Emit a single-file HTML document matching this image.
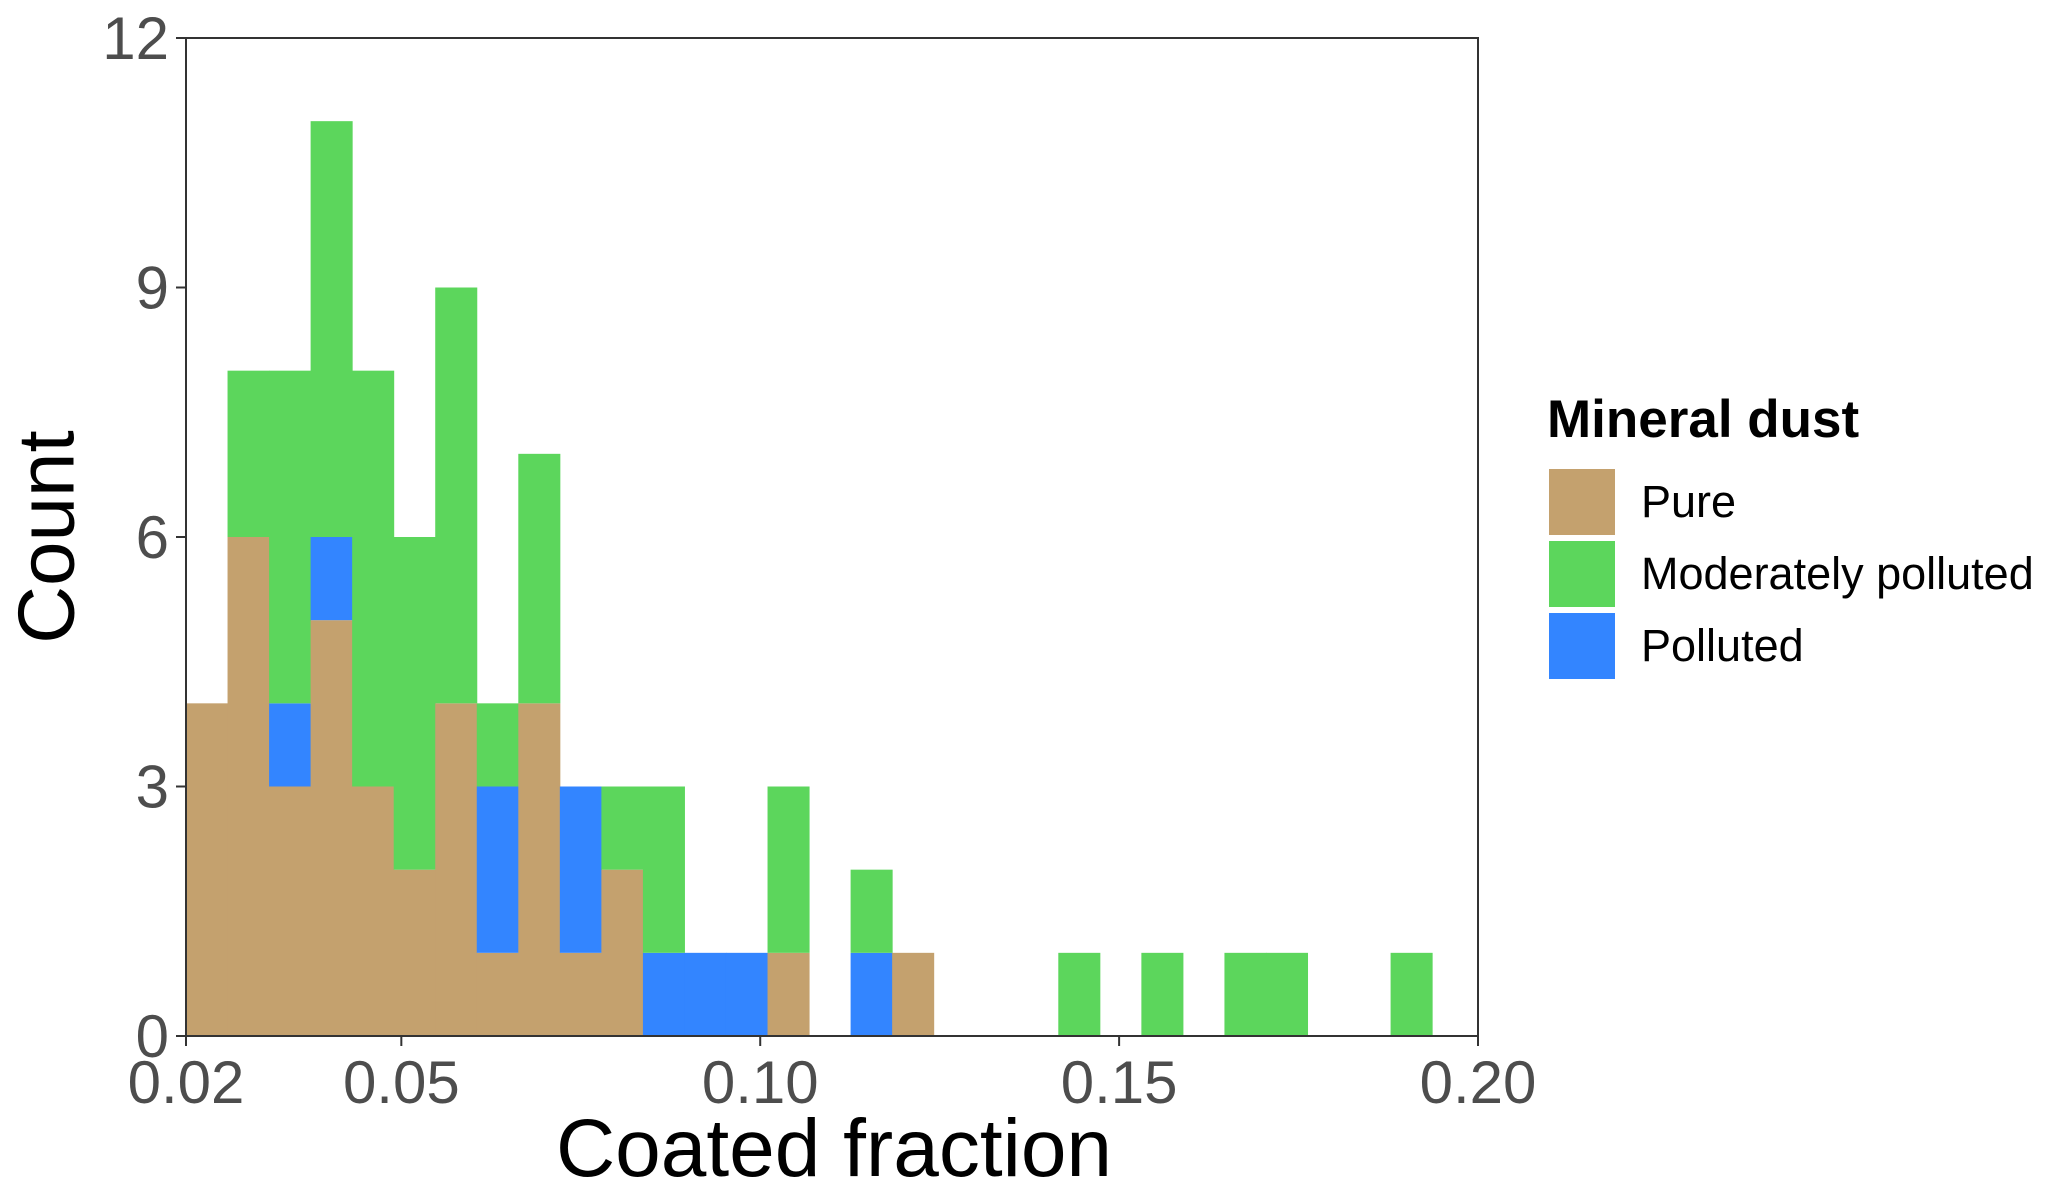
<!DOCTYPE html>
<html><head><meta charset="utf-8"><style>
body{margin:0;background:#fff}
svg{display:block;font-family:"Liberation Sans",sans-serif}
</style></head><body>
<svg id="chart" width="2057" height="1194">
<g id="bars"></g>
<rect x="186" y="38" width="1292" height="998" fill="none" stroke="#333" stroke-width="2"/>
<g id="axes"></g>
<text x="46" y="537" font-size="80" text-anchor="middle" dominant-baseline="central" transform="rotate(-90 46 537)">Count</text>
<text x="834" y="1176" font-size="82" text-anchor="middle">Coated fraction</text>
<g>
<text x="1547" y="437" font-size="53" font-weight="bold">Mineral dust</text>
<rect x="1549" y="469" width="66" height="66" fill="#C4A16E"/>
<text x="1641" y="517" font-size="45">Pure</text>
<rect x="1549" y="541" width="66" height="66" fill="#5CD65C"/>
<text x="1641" y="589" font-size="45">Moderately polluted</text>
<rect x="1549" y="613" width="66" height="66" fill="#3385FF"/>
<text x="1641" y="661" font-size="45">Polluted</text>
</g>
</svg>
<script>
const binStart = 0.02;
const binWidth = 0.005787;
const pure =     [4,6,3,5,3,2,4,1,4,1,2,0,0,0,1,0,0,1,0,0,0,0,0,0,0,0,0,0,0,0];
const polluted = [0,0,1,1,0,0,0,2,0,2,0,1,1,1,0,0,1,0,0,0,0,0,0,0,0,0,0,0,0,0];
const moderate = [0,2,4,5,5,4,5,1,3,0,1,2,0,0,2,0,1,0,0,0,0,1,0,1,0,1,1,0,0,1];
const xTicks = [0.02,0.05,0.10,0.15,0.20];
const xTickLabels = ["0.02","0.05","0.10","0.15","0.20"];
const yTicks = [0,3,6,9,12];
const NS="http://www.w3.org/2000/svg";
const X0=186,X1=1478,Y0=1036,Y1=38;
function sx(v){return X0+(v-0.02)/(0.20-0.02)*(X1-X0);}
function sy(v){return Y0-v/12*(Y0-Y1);}
const bars=document.getElementById('bars');
function bar(i,lo,hi,color,name){
  if(hi<=lo)return;
  const r=document.createElementNS(NS,'rect');
  const a=sx(binStart+i*binWidth),b=sx(binStart+(i+1)*binWidth);
  r.setAttribute('x',a);r.setAttribute('width',b-a+0.5);
  r.setAttribute('y',sy(hi));r.setAttribute('height',sy(lo)-sy(hi));
  r.setAttribute('fill',color);
  
  
  bars.appendChild(r);
}
for(let i=0;i<pure.length;i++){
  const p=pure[i],q=p+polluted[i],m=q+moderate[i];
  bar(i,0,p,'#C4A16E','bar-pure-'+i);
  bar(i,p,q,'#3385FF','bar-polluted-'+i);
  bar(i,q,m,'#5CD65C','bar-moderate-'+i);
}
const axes=document.getElementById('axes');
function el(tag,attrs){const e=document.createElementNS(NS,tag);for(const k in attrs)e.setAttribute(k,attrs[k]);axes.appendChild(e);return e;}
xTicks.forEach((v,i)=>{
  const x=sx(v);
  const t=el('line',{x1:x,x2:x,y1:Y0,y2:Y0+10,stroke:'#333','stroke-width':2});
  
  
  const l=el('text',{x:x,y:Y0+67,'font-size':60,'text-anchor':'middle',fill:'#4d4d4d'});
  l.textContent=xTickLabels[i];
  
  
});
yTicks.forEach(v=>{
  const y=sy(v);
  const t=el('line',{x1:X0-10,x2:X0,y1:y,y2:y,stroke:'#333','stroke-width':2});
  
  
  const l=el('text',{x:X0-17,y:y+21,'font-size':60,'text-anchor':'end',fill:'#4d4d4d'});
  l.textContent=String(v);
  
  
});
</script>
</body></html>
